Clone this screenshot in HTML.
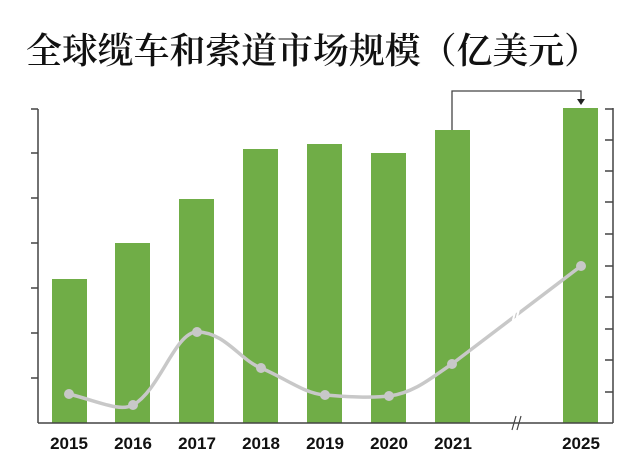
<!DOCTYPE html>
<html><head><meta charset="utf-8"><style>
html,body{margin:0;padding:0;background:#fff;}
svg{display:block;}
</style></head><body>
<svg width="640" height="471" viewBox="0 0 640 471" xmlns="http://www.w3.org/2000/svg">
<rect width="640" height="471" fill="#fff"/>
<text x="26" y="63" font-family="'Noto Serif CJK SC','Noto Sans CJK SC',serif" font-size="36" font-weight="600" fill="#111" textLength="574" lengthAdjust="spacingAndGlyphs">全球缆车和索道市场规模（亿美元）</text>
<g fill="#70ad47">
<rect x="52" y="279" width="35" height="144"/>
<rect x="115" y="243" width="35" height="180"/>
<rect x="179" y="199" width="35" height="224"/>
<rect x="243" y="149" width="35" height="274"/>
<rect x="307" y="144" width="35" height="279"/>
<rect x="371" y="153" width="35" height="270"/>
<rect x="435" y="130" width="35" height="293"/>
<rect x="563" y="108" width="35" height="315"/>
</g>
<g stroke="#444" stroke-width="1.5" fill="none">
<line x1="38" y1="109" x2="38" y2="423"/>
<path d="M31 109H38M31 153H38M31 198H38M31 243H38M31 288H38M31 333H38M31 378H38"/>
<line x1="613" y1="108" x2="613" y2="423"/>
<path d="M605 109H613M605 140H613M605 171H613M605 202H613M605 234H613M605 266H613M605 297H613M605 329H613M605 360H613M605 392H613"/>
<line x1="38" y1="423" x2="613" y2="423"/>
<path d="M452 130V91H581V100" stroke-width="1.3"/>
</g>
<path d="M577 99L585 99L581 105Z" fill="#222"/>
<path d="M512 430L516 416M517 430L521 416" stroke="#444" stroke-width="1.2"/>
<path d="M69 394C100 402 120 412 133 405C160 390 175 332 197 332C225 332 240 360 261 368C285 378 305 394 325 395C350 397 370 398 389 396C415 393 435 375 452 364L581 266" stroke="#c8c8c8" stroke-width="3.5" fill="none"/>
<path d="M515 312L513 320L517 326M519 309L517 317L521 323" stroke="#fff" stroke-width="2" fill="none"/>
<g fill="#c8c8c8">
<circle cx="69" cy="394" r="5"/><circle cx="133" cy="405" r="5"/><circle cx="197" cy="332" r="5"/><circle cx="261" cy="368" r="5"/><circle cx="325" cy="395" r="5"/><circle cx="389" cy="396" r="5"/><circle cx="452" cy="364" r="5"/><circle cx="581" cy="266" r="5"/>
</g>
<g font-family="'Liberation Sans',sans-serif" font-weight="bold" font-size="17" fill="#111" text-anchor="middle">
<text x="69" y="449">2015</text><text x="133" y="449">2016</text><text x="197" y="449">2017</text><text x="261" y="449">2018</text><text x="325" y="449">2019</text><text x="389" y="449">2020</text><text x="453" y="449">2021</text><text x="581" y="449">2025</text>
</g>
</svg>
</body></html>
